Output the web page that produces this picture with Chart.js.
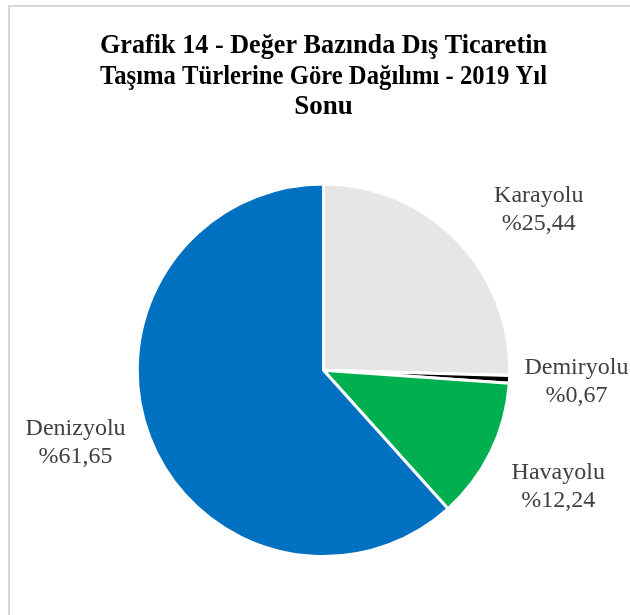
<!DOCTYPE html>
<html>
<head>
<meta charset="utf-8">
<script src="https://cdn.jsdelivr.net/npm/chart.js@4"></script>
<style>
  body { margin: 0; background: #fff; }
  #frame { position: absolute; left: 8px; top: 5px; width: 700px; height: 700px;
           border-left: 2px solid #d9d9d9; border-top: 2px solid #d9d9d9; }
  #wrap { position: absolute; left: 0; top: 0; width: 630px; height: 615px; }
</style>
</head>
<body>
<div id="frame"></div>
<div id="wrap"><canvas id="pieChart"></canvas></div>
<script>
var titleLines = ['Grafik 14 - Değer Bazında Dış Ticaretin', 'Taşıma Türlerine Göre Dağılımı - 2019 Yıl', 'Sonu'];
var categories = ['Karayolu', 'Demiryolu', 'Havayolu', 'Denizyolu'];
var shares = [25.44, 0.67, 12.24, 61.65];
var sliceColors = ['#E7E6E6', '#000000', '#00B050', '#0070C0'];

// labels outside the pie around the mid angle of each slice (hand nudged like in the original)
var labelNudge = [[28, 20], [-8, -3], [0, 0], [-4, -23]];

var outsideLabels = {
    id: 'outsideLabels',
    afterDatasetsDraw: function(chart) {
        var ctx = chart.ctx;
        var meta = chart.getDatasetMeta(0);
        ctx.save();
        ctx.font = '24px "Liberation Serif", "Times New Roman", serif';
        ctx.fillStyle = '#404040';
        ctx.textAlign = 'center';
        ctx.textBaseline = 'alphabetic';
        meta.data.forEach(function(arc, i) {
            var mid = (arc.startAngle + arc.endAngle) / 2;
            var dist = arc.outerRadius + 75;
            var cx = arc.x + Math.cos(mid) * dist + labelNudge[i][0];
            var cy = arc.y + Math.sin(mid) * dist + labelNudge[i][1];
            var pct = '%' + shares[i].toFixed(2).replace('.', ',');
            ctx.fillText(categories[i], cx, cy - 6);
            ctx.fillText(pct, cx, cy + 22);
        });
        ctx.restore();
    }
};

var ctx = document.getElementById('pieChart').getContext('2d');
var pieChart = new Chart(ctx, {
    type: 'pie',
    data: {
        labels: categories,
        datasets: [{
            data: shares,
            backgroundColor: sliceColors,
            borderColor: '#ffffff',
            borderWidth: 3
        }]
    },
    options: {
        responsive: true,
        maintainAspectRatio: false,
        animation: false,
        layout: { padding: { left: 100, right: 83, top: 0, bottom: 57 } },
        plugins: {
            legend: { display: false },
            tooltip: { enabled: false },
            title: {
                display: true,
                text: titleLines,
                color: '#000000',
                font: { family: '"Liberation Serif", "Times New Roman", serif', size: 27, weight: 'bold', lineHeight: 1.13 },
                padding: { top: 31, bottom: 60 }
            }
        }
    },
    plugins: [outsideLabels]
});
</script>
</body>
</html>
